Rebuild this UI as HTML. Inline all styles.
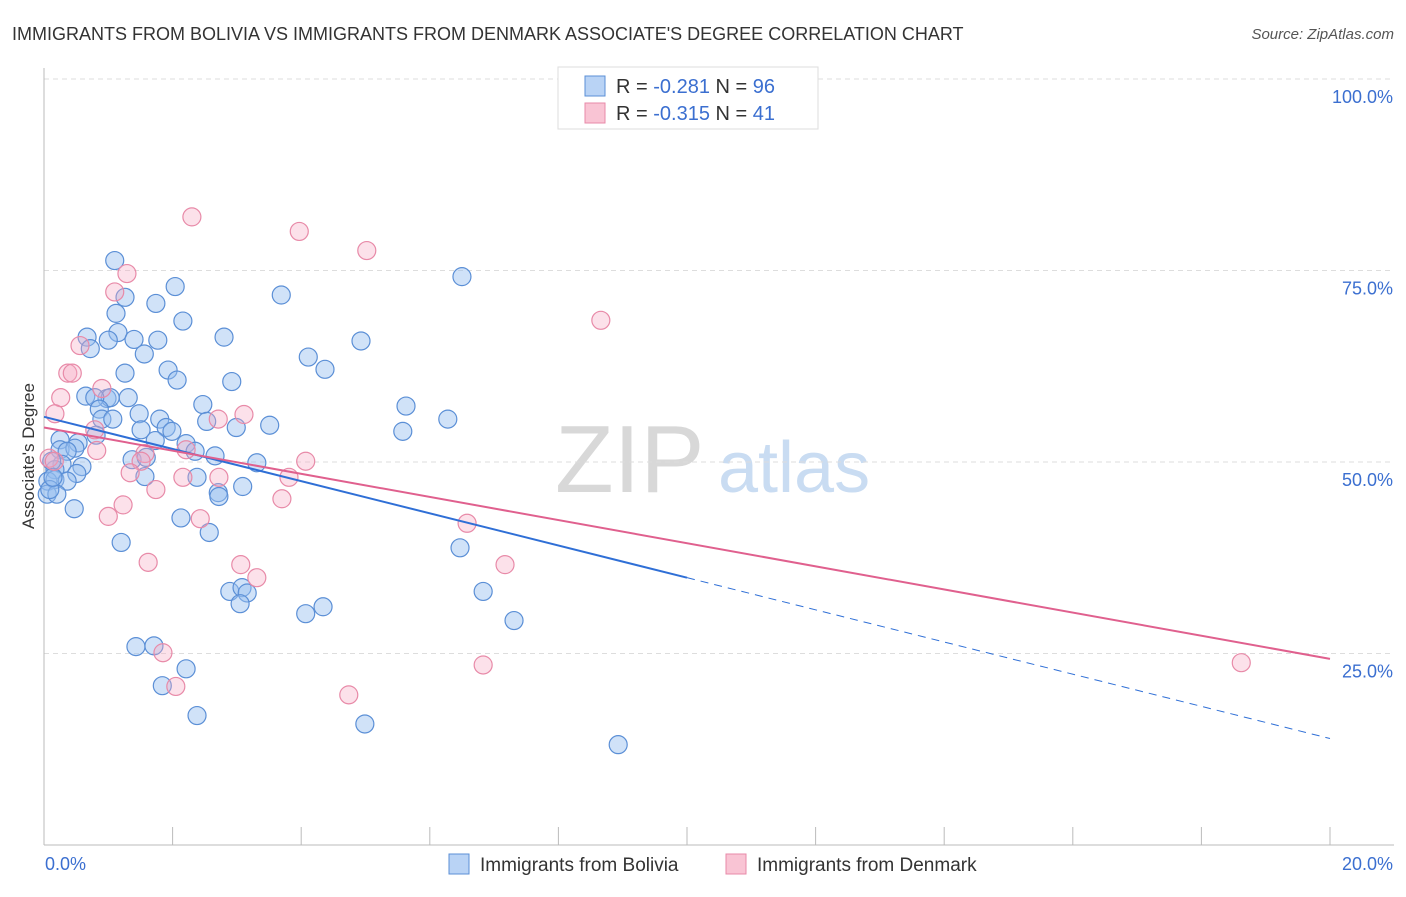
<!DOCTYPE html>
<html><head><meta charset="utf-8"><style>
body{margin:0;background:#fff;font-family:"Liberation Sans",sans-serif}
svg text{font-family:"Liberation Sans",sans-serif}
</style></head><body>
<svg id="chart" width="1406" height="892" xmlns="http://www.w3.org/2000/svg">
<text x="12" y="40" font-size="18" fill="#333">IMMIGRANTS FROM BOLIVIA VS IMMIGRANTS FROM DENMARK ASSOCIATE'S DEGREE CORRELATION CHART</text>
<text x="1394" y="39" font-size="15" fill="#555" text-anchor="end" font-style="italic">Source: ZipAtlas.com</text>
<g>
<text x="555" y="492" font-size="96" fill="#d8d8d8" font-family="Liberation Serif">ZIP</text>
<text x="718" y="492" font-size="72" fill="#c9dcf2">atlas</text>
</g>
<g id="grid"></g>
<g id="axes"></g>
<g id="pts"></g>
<g id="lines"></g>
<text transform="translate(34,456) rotate(-90)" font-size="17" fill="#333" text-anchor="middle">Associate's Degree</text>
<g>
<rect x="558" y="67" width="260" height="62" fill="#fff" stroke="#ddd"/>
<rect x="585" y="76" width="20" height="20" fill="#b9d3f5" stroke="#5b8fd6"/>
<rect x="585" y="103" width="20" height="20" fill="#f9c4d4" stroke="#e88aa8"/>
<text x="616" y="93" font-size="20" fill="#333">R = <tspan fill="#3b6fd0">-0.281</tspan>   N = <tspan fill="#3b6fd0">96</tspan></text>
<text x="616" y="120" font-size="20" fill="#333">R = <tspan fill="#3b6fd0">-0.315</tspan>   N =  <tspan fill="#3b6fd0">41</tspan></text>
</g>
<g>
<rect x="449" y="854" width="20" height="20" fill="#b9d3f5" stroke="#5b8fd6"/>
<text x="480" y="871" font-size="19" fill="#333">Immigrants from Bolivia</text>
<rect x="726" y="854" width="20" height="20" fill="#f9c4d4" stroke="#e88aa8"/>
<text x="757" y="871" font-size="19" fill="#333">Immigrants from Denmark</text>
</g>
</svg>
<script>
const xTicks=[0,2,4,6,8,10,12,14,16,18,20];
const yTicks=[25,50,75,100];
const yTickLabels=["25.0%","50.0%","75.0%","100.0%"];
const xEndLabels=["0.0%","20.0%"];
const boliviaX=[1.10,2.04,1.26,1.74,3.69,6.50,1.12,2.16,0.67,1.15,0.72,1.00,1.40,1.77,2.80,4.93,1.56,4.11,4.37,1.26,1.93,2.07,2.92,0.65,0.98,1.03,1.31,0.79,0.86,1.48,2.47,5.63,6.28,0.90,1.07,1.80,2.53,1.90,3.51,2.99,1.51,1.99,5.58,0.81,0.25,0.53,1.73,2.21,0.25,0.48,0.36,2.35,2.66,1.37,1.59,3.31,0.28,0.59,0.17,1.57,2.38,0.51,0.06,0.17,0.36,3.09,0.05,0.20,2.71,2.72,0.47,2.13,2.57,1.20,6.47,2.89,3.08,3.16,3.05,4.34,4.07,6.83,7.31,1.43,1.71,2.21,1.84,2.38,4.99,8.93,0.12,0.09,0.14];
const boliviaY=[76.3,72.9,71.5,70.7,71.8,74.2,69.4,68.4,66.3,66.9,64.8,65.9,66.0,65.9,66.3,65.8,64.1,63.7,62.1,61.6,62.0,60.7,60.5,58.6,58.3,58.4,58.4,58.4,56.9,56.3,57.5,57.3,55.6,55.6,55.6,55.6,55.3,54.5,54.8,54.5,54.2,54.0,54.0,53.5,52.9,52.5,52.8,52.4,51.6,51.8,51.4,51.4,50.8,50.3,50.6,49.9,49.7,49.4,49.0,48.1,48.0,48.5,47.5,47.7,47.5,46.8,45.8,45.8,46.0,45.5,43.9,42.7,40.8,39.5,38.8,33.1,33.6,32.9,31.5,31.1,30.2,33.1,29.3,25.9,26.0,23.0,20.8,16.9,15.8,13.1,50.1,46.4,48.0];
const denmarkX=[2.30,3.97,5.02,1.29,1.10,8.66,0.56,0.37,0.44,0.90,0.26,0.17,3.11,2.71,0.79,2.21,0.82,1.57,0.08,0.16,1.51,4.07,1.34,2.16,2.72,3.81,1.74,1.23,3.70,1.00,2.43,6.58,1.62,3.06,3.31,7.17,1.85,2.05,6.83,4.74,18.62];
const denmarkY=[82.0,80.1,77.6,74.6,72.2,68.5,65.2,61.6,61.6,59.6,58.4,56.3,56.2,55.6,54.2,51.6,51.5,51.1,50.5,50.1,50.1,50.1,48.6,48.0,48.0,48.0,46.4,44.4,45.2,42.9,42.6,42.0,36.9,36.6,34.9,36.6,25.1,20.7,23.5,19.6,23.8];
const boliviaFit=[55.9,13.9];
const denmarkFit=[54.5,24.3];
const NS="http://www.w3.org/2000/svg";
const X0=44,X1=1330,Y0=845,Y100=79;
function sx(v){return X0+(X1-X0)*v/20;}
function sy(v){return Y0-(Y0-Y100)*v/100;}
function mk(tag,attrs,parent){const e=document.createElementNS(NS,tag);for(const k in attrs)e.setAttribute(k,attrs[k]);parent.appendChild(e);return e;}
const grid=document.getElementById('grid'),axes=document.getElementById('axes'),pts=document.getElementById('pts'),lines=document.getElementById('lines'),svg=document.getElementById('chart');
yTicks.forEach((t,i)=>{
 const l=mk('line',{x1:X0,x2:1394,y1:sy(t),y2:sy(t),stroke:'#ddd','stroke-dasharray':'5,4'},grid);
 
 
 const tx=mk('text',{x:1393,y:sy(t)+24,'font-size':18,fill:'#3b6fd0','text-anchor':'end'},axes);
 tx.textContent=yTickLabels[i];
 
 
});
const ya=mk('line',{x1:X0,x2:X0,y1:68,y2:Y0,stroke:'#bbb'},axes);


const xa=mk('line',{x1:X0,x2:1394,y1:Y0,y2:Y0,stroke:'#bbb'},axes);


xTicks.forEach(t=>{
 const l=mk('line',{x1:sx(t),x2:sx(t),y1:Y0-18,y2:Y0,stroke:'#bbb'},axes);
 
 
});
const xl0=mk('text',{x:45,y:870,'font-size':18,fill:'#3b6fd0'},axes);
xl0.textContent=xEndLabels[0];


const xl1=mk('text',{x:1393,y:870,'font-size':18,fill:'#3b6fd0','text-anchor':'end'},axes);
xl1.textContent=xEndLabels[1];


boliviaX.forEach((v,i)=>{
 const c=mk('circle',{cx:sx(v),cy:sy(boliviaY[i]),r:9,fill:'rgba(150,190,240,0.45)',stroke:'#5b8fd6','stroke-width':1.2},pts);
 
 
});
denmarkX.forEach((v,i)=>{
 const c=mk('circle',{cx:sx(v),cy:sy(denmarkY[i]),r:9,fill:'rgba(245,170,195,0.35)',stroke:'#e88aa8','stroke-width':1.2},pts);
 
 
});
function fy(f,x){return f[0]+(f[1]-f[0])*x/20;}
const b1=mk('line',{x1:sx(0),y1:sy(fy(boliviaFit,0)),x2:sx(10),y2:sy(fy(boliviaFit,10)),stroke:'#2f6fd6','stroke-width':2},lines);


const b2=mk('line',{x1:sx(10),y1:sy(fy(boliviaFit,10)),x2:sx(20),y2:sy(fy(boliviaFit,20)),stroke:'#2f6fd6','stroke-width':1,'stroke-dasharray':'8,6'},lines);


const p1=mk('line',{x1:sx(0),y1:sy(fy(denmarkFit,0)),x2:sx(20),y2:sy(fy(denmarkFit,20)),stroke:'#e0608e','stroke-width':2},lines);


</script>
</body></html>
